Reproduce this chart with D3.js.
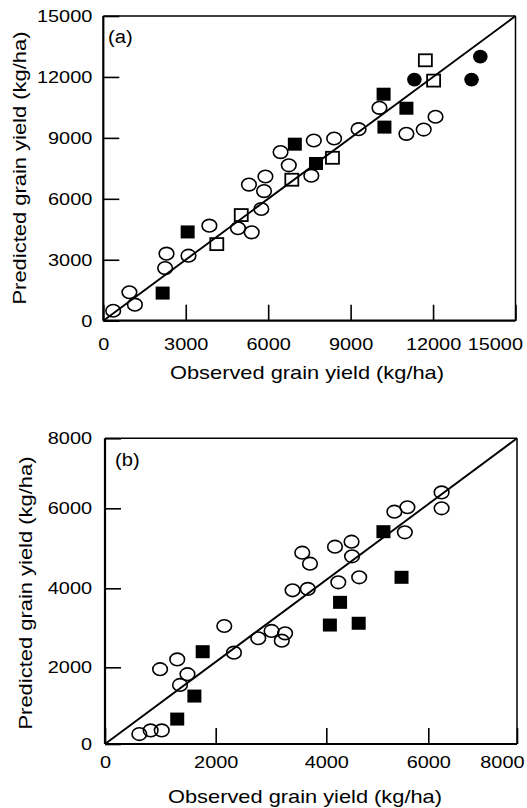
<!DOCTYPE html>
<meta charset="utf-8">
<style>
    body { margin: 0; background: #fff; }
    svg { display: block; }
    text { font-family: "Liberation Sans", Arial, Helvetica, sans-serif; fill: #000; }
</style>
<body>
<script src="https://cdn.jsdelivr.net/npm/d3@7/dist/d3.min.js"></script>
<script>

// panel (a) -- [observed, predicted] in kg/ha
var aOpenCircle = [[360,490],[950,1400],[1150,790],[2250,2590],[2300,3300],[3100,3200],
    [3860,4680],[4900,4550],[5400,4350],[5300,6700],[5900,7100],[5850,6380],[5750,5500],
    [6450,8300],[6750,7650],[7570,7140],[7660,8870],[8400,8970],[9290,9430],[10050,10480],
    [11030,9200],[11660,9410],[12090,10040]];
var aOpenSquare = [[4130,3770],[5020,5200],[6860,6940],[8340,8020],[11720,12820],[12020,11820]];
var aFillSquare = [[2160,1360],[3070,4370],[6970,8690],[7740,7740],[10200,11150],[10230,9530],[11030,10460]];
var aFillCircle = [[11320,11870],[13400,11870],[13720,13000]];
var aTicks = [0, 3000, 6000, 9000, 12000, 15000];

// panel (b)
var bOpenCircle = [[620,260],[825,355],[1025,355],[995,1950],[1305,2200],[1490,1820],[1355,1540],
    [2155,3045],[2330,2370],[2770,2735],[3010,2920],[3255,2860],[3195,2675],[3390,3950],
    [3665,3985],[3565,4890],[3705,4615],[4170,5040],[4235,4150],[4495,5165],[4505,4800],
    [4645,4275],[5335,5915],[5590,6030],[5540,5400],[6300,6455],[6300,6000]];
var bFillSquare = [[1305,650],[1615,1250],[1765,2395],[4070,3070],[4270,3645],[4635,3115],[5120,5415],[5475,4275]];
var bTicks = [0, 2000, 4000, 6000, 8000];

var xTitle = "Observed grain yield (kg/ha)",
    yTitle = "Predicted grain yield (kg/ha)";

var svg = d3.select("body").append("svg")
    .attr("width", 527)
    .attr("height", 808);

// the printed type is wider than Helvetica, so widen each label a bit
function widen(sel, k) {
  sel.each(function() {
    var w = this.getComputedTextLength();
    d3.select(this).attr("textLength", w * k).attr("lengthAdjust", "spacingAndGlyphs");
  });
}

function panel(p) {
  var x = p.x, y = p.y;
  var g = svg.append("g");
  var x0 = x.range()[0], x1 = x.range()[x.range().length - 1],
      y0 = y.range()[0], y1 = y.range()[y.range().length - 1];

  var gx = g.append("g")
      .attr("transform", "translate(0," + y0 + ")")
      .call(d3.axisBottom(x).tickValues(p.ticks).tickSizeInner(-16).tickSizeOuter(0)
          .tickPadding(p.xPad).tickFormat(d3.format("d")));
  var gy = g.append("g")
      .attr("transform", "translate(" + x0 + ",0)")
      .call(d3.axisLeft(y).tickValues(p.ticks).tickSizeInner(-16).tickSizeOuter(0)
          .tickPadding(p.yPad).tickFormat(d3.format("d")));

  [gx, gy].forEach(function(a) {
    a.attr("font-family", null).attr("font-size", 17);
    a.select(".domain").remove();
    a.selectAll(".tick line").attr("stroke", "#000").attr("stroke-width", 1.6);
    widen(a.selectAll("text"), 1.17);
  });
  gx.select(".tick:last-of-type text").attr("text-anchor", "end").attr("x", 7);

  // frame: heavier left/bottom
  g.append("line").attr("x1", x0).attr("x2", x1).attr("y1", y1).attr("y2", y1)
      .attr("stroke", "#000").attr("stroke-width", 1.5);
  g.append("line").attr("x1", x1).attr("x2", x1).attr("y1", y1).attr("y2", y0)
      .attr("stroke", "#000").attr("stroke-width", 1.5);
  g.append("line").attr("x1", x0).attr("x2", x1).attr("y1", y0).attr("y2", y0)
      .attr("stroke", "#000").attr("stroke-width", 2.2);
  g.append("line").attr("x1", x0).attr("x2", x0).attr("y1", y1).attr("y2", y0)
      .attr("stroke", "#000").attr("stroke-width", 2.2);

  // 1:1 line
  var top = p.ticks[p.ticks.length - 1];
  g.append("line")
      .attr("x1", x(0)).attr("y1", y(0)).attr("x2", x(top)).attr("y2", y(top))
      .attr("stroke", "#000").attr("stroke-width", 1.9);

  g.selectAll(".oc").data(p.openCircle).enter().append("ellipse")
      .attr("cx", function(d) { return x(d[0]); })
      .attr("cy", function(d) { return y(d[1]); })
      .attr("rx", 7.3).attr("ry", 6.3)
      .attr("fill", "none").attr("stroke", "#000").attr("stroke-width", 1.6);

  g.selectAll(".os").data(p.openSquare || []).enter().append("rect")
      .attr("x", function(d) { return x(d[0]) - 6.5; })
      .attr("y", function(d) { return y(d[1]) - 6; })
      .attr("width", 13).attr("height", 12)
      .attr("fill", "none").attr("stroke", "#000").attr("stroke-width", 1.8);

  g.selectAll(".fs").data(p.fillSquare || []).enter().append("rect")
      .attr("x", function(d) { return x(d[0]) - 7; })
      .attr("y", function(d) { return y(d[1]) - 6.5; })
      .attr("width", 14).attr("height", 13)
      .attr("fill", "#000");

  g.selectAll(".fc").data(p.fillCircle || []).enter().append("ellipse")
      .attr("cx", function(d) { return x(d[0]); })
      .attr("cy", function(d) { return y(d[1]); })
      .attr("rx", 7.3).attr("ry", 6.8)
      .attr("fill", "#000");

  g.append("text").attr("x", p.tag[0]).attr("y", p.tag[1])
      .attr("font-size", 18).text(p.tagText)
      .call(widen, 1.12);

  g.append("text")
      .attr("x", p.xt[0]).attr("y", p.xt[1])
      .attr("text-anchor", "middle").attr("font-size", 18.5)
      .attr("textLength", 274).attr("lengthAdjust", "spacingAndGlyphs")
      .text(xTitle);

  g.append("text")
      .attr("transform", "translate(" + p.yt[0] + "," + p.yt[1] + ") rotate(-90)")
      .attr("text-anchor", "middle").attr("font-size", 18.5)
      .attr("textLength", 273).attr("lengthAdjust", "spacingAndGlyphs")
      .text(yTitle);
}

panel({
  x: d3.scaleLinear().domain([0, 15000]).range([103.3, 515.5]),
  y: d3.scaleLinear().domain([0, 15000]).range([320.7, 16]),
  ticks: aTicks, xPad: 17, yPad: 11,
  openCircle: aOpenCircle, openSquare: aOpenSquare,
  fillSquare: aFillSquare, fillCircle: aFillCircle,
  tag: [108, 43], tagText: "(a)",
  xt: [307, 379], yt: [26, 168]
});

// the scanned axis in (b) is not quite even, so the ticks are placed where printed
panel({
  x: d3.scaleLinear().domain(bTicks).range([105, 215.7, 326.3, 428.3, 517]),
  y: d3.scaleLinear().domain(bTicks).range([744, 667.3, 588.3, 508.3, 438.3]),
  ticks: bTicks, xPad: 12, yPad: 13,
  openCircle: bOpenCircle, fillSquare: bFillSquare,
  tag: [115, 466], tagText: "(b)",
  xt: [305, 803], yt: [32, 593]
});

</script>
</body>
